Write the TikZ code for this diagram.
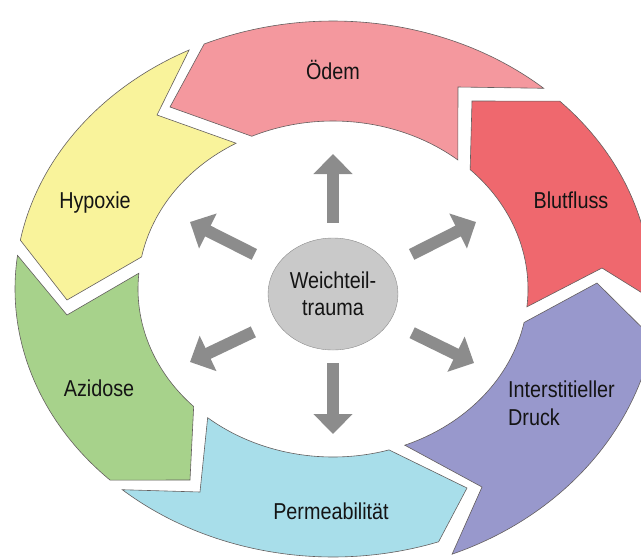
\documentclass[tikz,border=0pt]{standalone}
\usepackage{fontspec}
\setmainfont{Liberation Sans}[FakeStretch=0.86]
\usetikzlibrary{arrows.meta,shapes.geometric}

\definecolor{odemc}{RGB}{244,152,158}
\definecolor{blutc}{RGB}{239,104,110}
\definecolor{druckc}{RGB}{152,152,204}
\definecolor{permc}{RGB}{168,222,234}
\definecolor{azic}{RGB}{167,210,139}
\definecolor{hypc}{RGB}{249,243,155}
\definecolor{hubc}{RGB}{201,201,201}
\definecolor{rayc}{RGB}{140,140,140}
\definecolor{edgec}{RGB}{100,95,95}

\begin{document}
\begin{tikzpicture}[x=1pt, y=1pt, yscale=-1,
    seg/.style={draw=edgec, line width=0.6pt},
    rout/.style={x radius=318, y radius=268},
    rin/.style={x radius=195, y radius=168},
    lbl/.style={font=\fontsize{23}{28}\selectfont, text=black!92, inner sep=0pt},
    ray/.style={draw=rayc, line width=12pt, -{Triangle[length=20pt, width=38pt]}},
    hub/.style={ellipse, draw=black!45, fill=hubc, minimum width=130pt, minimum height=112pt,
        inner sep=0pt, align=center, font=\fontsize{23}{27}\selectfont, text=black!92}
]
\useasboundingbox (0,0) rectangle (641,558);
\clip (0,0) rectangle (641,558);

% ring segments, relative to the ring centre
\begin{scope}[shift={(333,289)}]
% Oedem
\filldraw[seg, fill=odemc] (246.1:318 and 268) arc[rout, start angle=246.1, end angle=311.5]
    -- (125,-202) -- (309.8:195 and 168) arc[rin, start angle=309.8, end angle=245.4]
    -- (-163,-182) -- cycle;
% Blutfluss
\filldraw[seg, fill=blutc] (315.5:318 and 268) arc[rout, start angle=315.5, end angle=362]
    -- (269,-21) -- (366.1:195 and 168) arc[rin, start angle=366.1, end angle=314.7]
    -- (139,-188) -- cycle;
% interstitieller Druck (a bit wider outside)
\filldraw[seg, fill=druckc] (10:325 and 285) arc[x radius=325, y radius=285, start angle=10, end angle=68.5]
    -- (149,198) -- (68.4:195 and 168) arc[rin, start angle=68.4, end angle=11.5]
    -- (264,-6) -- cycle;
% Permeabilitaet
\filldraw[seg, fill=permc] (70.6:318 and 268) arc[rout, start angle=70.6, end angle=131.5]
    -- (-133,203) -- (130:195 and 168) arc[rin, start angle=130, end angle=73.3]
    -- (134,199) -- cycle;
% Azidose
\filldraw[seg, fill=azic] (134.5:318 and 268) arc[rout, start angle=134.5, end angle=187.2]
    -- (-266,26) -- (185.4:195 and 168) arc[rin, start angle=185.4, end angle=135.6]
    -- (-143,191) -- cycle;
% Hypoxie
\filldraw[seg, fill=hypc] (190.5:318 and 268) arc[rout, start angle=190.5, end angle=243.1]
    -- (-176,-174) -- (240.2:195 and 168) arc[rin, start angle=240.2, end angle=191]
    -- (-266,11) -- cycle;
\end{scope}

% labels
\node[lbl, anchor=base] (odem) at (333,79) {Ödem};
\node[lbl, anchor=base] (blut) at (571,208) {Blutfluss};
\node[lbl, anchor=west, align=left] (druck) at (508,403) {Interstitieller\\Druck};
\node[lbl, anchor=base] (perm) at (331,519) {Permeabilität};
\node[lbl, anchor=base] (azi) at (99,396) {Azidose};
\node[lbl, anchor=base] (hyp) at (95,208) {Hypoxie};

% centre and rays
\node[hub] (hub) at (333,294) {Weichteil-\\trauma};

\coordinate (tN) at (333,154);
\coordinate (tS) at (333,434);
\coordinate (tNE) at (476,222);
\coordinate (tSE) at (474,363);
\coordinate (tSW) at (190,362);
\coordinate (tNW) at (190,222);

\draw[ray, shorten <=15pt] (hub) -- (tN);
\draw[ray, shorten <=13pt] (hub) -- (tS);
\draw[ray, shorten <=25pt] (hub) -- (tNE);
\draw[ray, shorten <=25pt] (hub) -- (tSE);
\draw[ray, shorten <=25pt] (hub) -- (tSW);
\draw[ray, shorten <=25pt] (hub) -- (tNW);
\end{tikzpicture}
\end{document}
